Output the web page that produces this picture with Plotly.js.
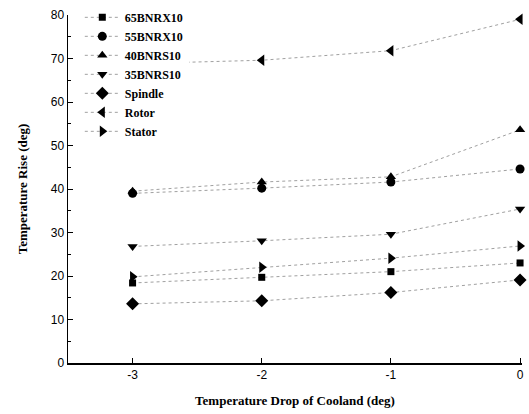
<!DOCTYPE html>
<html><head><meta charset="utf-8">
<script src="https://cdn.plot.ly/plotly-3.0.1.min.js"></script>
<style>html,body{margin:0;padding:0;background:#fff}#chart{width:529px;height:414px}</style>
</head><body><div id="chart"></div>
<script>
const xVals = [-3, -2, -1, 0];
const seriesNames = ["65BNRX10", "55BNRX10", "40BNRS10", "35BNRS10", "Spindle", "Rotor", "Stator"];
const s65BNRX10 = [18.4, 19.7, 21.0, 23.0];
const s55BNRX10 = [39.0, 40.2, 41.6, 44.6];
const s40BNRS10 = [39.5, 41.6, 42.8, 53.6];
const s35BNRS10 = [26.8, 28.1, 29.6, 35.4];
const sSpindle = [13.6, 14.3, 16.2, 19.1];
const sRotor = [68.8, 69.6, 71.8, 79.0];
const sStator = [19.8, 22.0, 24.1, 26.9];
const symbols = ["square", "circle", "triangle-up", "triangle-down", "diamond", "triangle-left", "triangle-right"];
const sizes = [7, 9, 9, 9, 10, 10, 10];
const allSeries = [s65BNRX10, s55BNRX10, s40BNRS10, s35BNRS10, sSpindle, sRotor, sStator];

const traces = allSeries.map((ys, i) => {
  const t = {
    x: xVals, y: ys, name: seriesNames[i], type: "scatter", mode: "lines+markers",
    line: {color: "#a0a0a0", width: 1, dash: "dot"},
    marker: {symbol: symbols[i], size: sizes[i], color: "#000"},
    cliponaxis: false
  };
  if (seriesNames[i] === "Rotor") {
    // the Rotor point at -3 is hidden under the legend box in the reference
    t.selectedpoints = [1, 2, 3];
    t.selected = {marker: {opacity: 1}};
    t.unselected = {marker: {opacity: 0}};
  }
  return t;
});

const layout = {
  width: 529, height: 414,
  margin: {l: 68, r: 7, t: 15, b: 51, autoexpand: false},
  paper_bgcolor: "#fff", plot_bgcolor: "#fff",
  showlegend: true,
  legend: {x: 0.026, y: 1.035, xanchor: "left", yanchor: "top", bgcolor: "#ffffff",
    font: {family: "Liberation Serif", size: 12, color: "#000", weight: "bold"}, tracegroupgap: 0, itemwidth: 35},
  xaxis: {range: [-3.5, 0.015], tickvals: xVals, ticktext: ["-3", "-2", "-1", "0"],
    ticks: "inside", ticklen: 5, tickcolor: "#000", showline: true, linecolor: "#000", linewidth: 1.5,
    zeroline: false, showgrid: false, tickfont: {family: "Liberation Sans", size: 12, color: "#000"},
    title: {text: "Temperature Drop of Cooland (deg)", font: {family: "Liberation Serif", size: 13, color: "#000", weight: "bold"}, standoff: 15}},
  yaxis: {range: [0, 80], dtick: 10, ticks: "inside", ticklen: 5, tickcolor: "#000",
    minor: {dtick: 5, ticks: "inside", ticklen: 3, tickcolor: "#000"},
    showline: true, linecolor: "#000", linewidth: 1.5, zeroline: false, showgrid: false,
    tickfont: {family: "Liberation Sans", size: 12, color: "#000"},
    title: {text: "Temperature Rise (deg)", font: {family: "Liberation Serif", size: 13, color: "#000", weight: "bold"}, standoff: 20}}
};
Plotly.newPlot("chart", traces, layout, {displayModeBar: false, staticPlot: true});
</script></body></html>
